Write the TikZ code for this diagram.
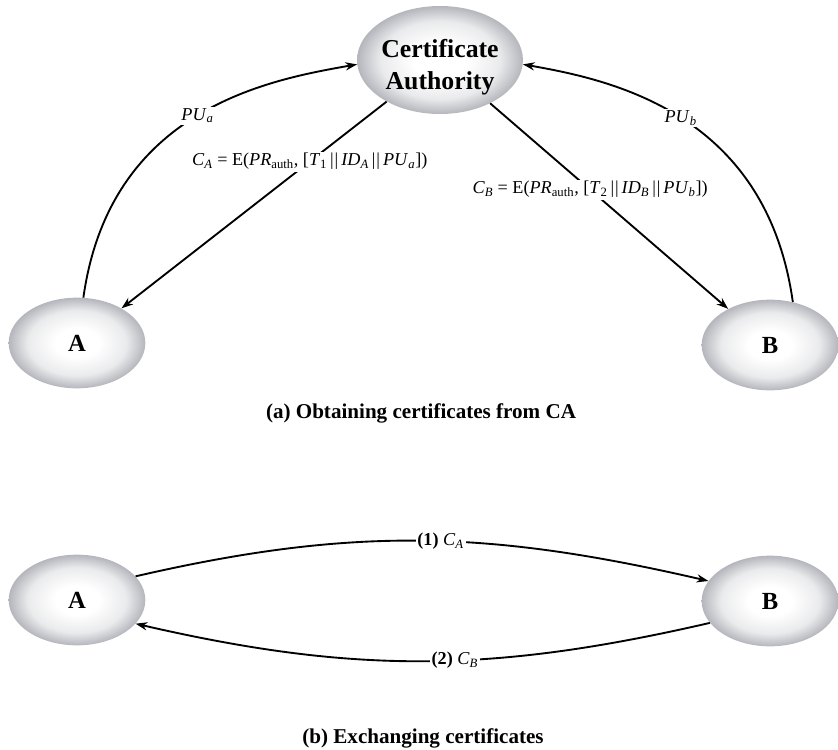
\documentclass[tikz,border=0pt]{standalone}
\usepackage{fontspec}
\setmainfont{Liberation Serif}
\usetikzlibrary{arrows.meta, shapes.geometric}
\definecolor{sombra}{RGB}{180,182,188}
\pgfdeclareradialshading{luz}{\pgfpoint{0bp}{0bp}}{color(0bp)=(white); color(8bp)=(white); color(18bp)=(white!72!sombra); color(25bp)=(sombra); color(50bp)=(sombra)}
\newcommand{\indice}[1]{\textsubscript{#1}}
\newcommand{\barras}{\,\textbar\kern0.05em\textbar\,}

\begin{document}
\begin{tikzpicture}[
                x=0.03cm, y=-0.03cm,
                entidade/.style={ellipse, shade, shading=luz, inner sep=0pt, minimum width=4.1cm, minimum height=2.72cm, font=\fontsize{21}{24}\selectfont\bfseries},
                autoridade/.style={entidade, minimum width=4.92cm, minimum height=3.24cm, font=\fontsize{22}{27}\selectfont\bfseries},
                seta/.style={-{Stealth[length=10pt, width=7pt]}, line width=1.6pt},
                rotulo/.style={fill=white, inner sep=1.5pt, font=\fontsize{15.5}{18}\selectfont},
                legenda/.style={font=\fontsize{18}{21}\selectfont\bfseries}
            ]
                \useasboundingbox (0,0) rectangle (838,749);

                % Autoridade e usuarios
                \node[autoridade] (ca) at (440,60) {\raisebox{-6pt}[\height][\depth]{\begin{tabular}{@{}c@{}}Certificate\\Authority\end{tabular}}};
                \node[entidade] (a) at (77,343) {A};
                \node[entidade] (b) at (770,345) {B};
                \node[legenda] (capa) at (421,413) {(a) Obtaining certificates from CA};

                \node[entidade] (a2) at (77,600) {A};
                \node[entidade] (b2) at (770,601) {B};
                \node[legenda] (capb) at (423,738) {(b) Exchanging certificates};

                % Obtencao dos certificados
                \draw[seta] (a.82) to[out=82, in=190, out looseness=1.36, in looseness=0.63]
                    node[rotulo] {\textit{PU}\indice{\textit{a}}} (ca.183);
                \draw[seta] (b.62) to[out=98, in=-10, out looseness=1.36, in looseness=0.63]
                    node[rotulo] {\textit{PU}\indice{\textit{b}}} (ca.357);
                \draw[seta] (ca) -- node[rotulo, pos=0.29] {\textit{C}\indice{\textit{A}} = E(\textit{PR}\indice{auth}, [\textit{T}\indice{1}\barras\textit{ID}\indice{\textit{A}}\barras\textit{PU}\indice{\textit{a}}])} (a);
                \draw[seta] (ca) -- node[rotulo, pos=0.42] {\textit{C}\indice{\textit{B}} = E(\textit{PR}\indice{auth}, [\textit{T}\indice{2}\barras\textit{ID}\indice{\textit{B}}\barras\textit{PU}\indice{\textit{b}}])} (b);

                % Troca dos certificados
                \draw[seta] (a2.22) to[out=13, in=167]
                    node[rotulo, pos=0.535] {\textbf{(1)} \textit{C}\indice{\textit{A}}} (b2.162);
                \draw[seta] (b2.200) to[out=193, in=-13]
                    node[rotulo, pos=0.44] {\textbf{(2)} \textit{C}\indice{\textit{B}}} (a2.338);
\end{tikzpicture}
\end{document}
